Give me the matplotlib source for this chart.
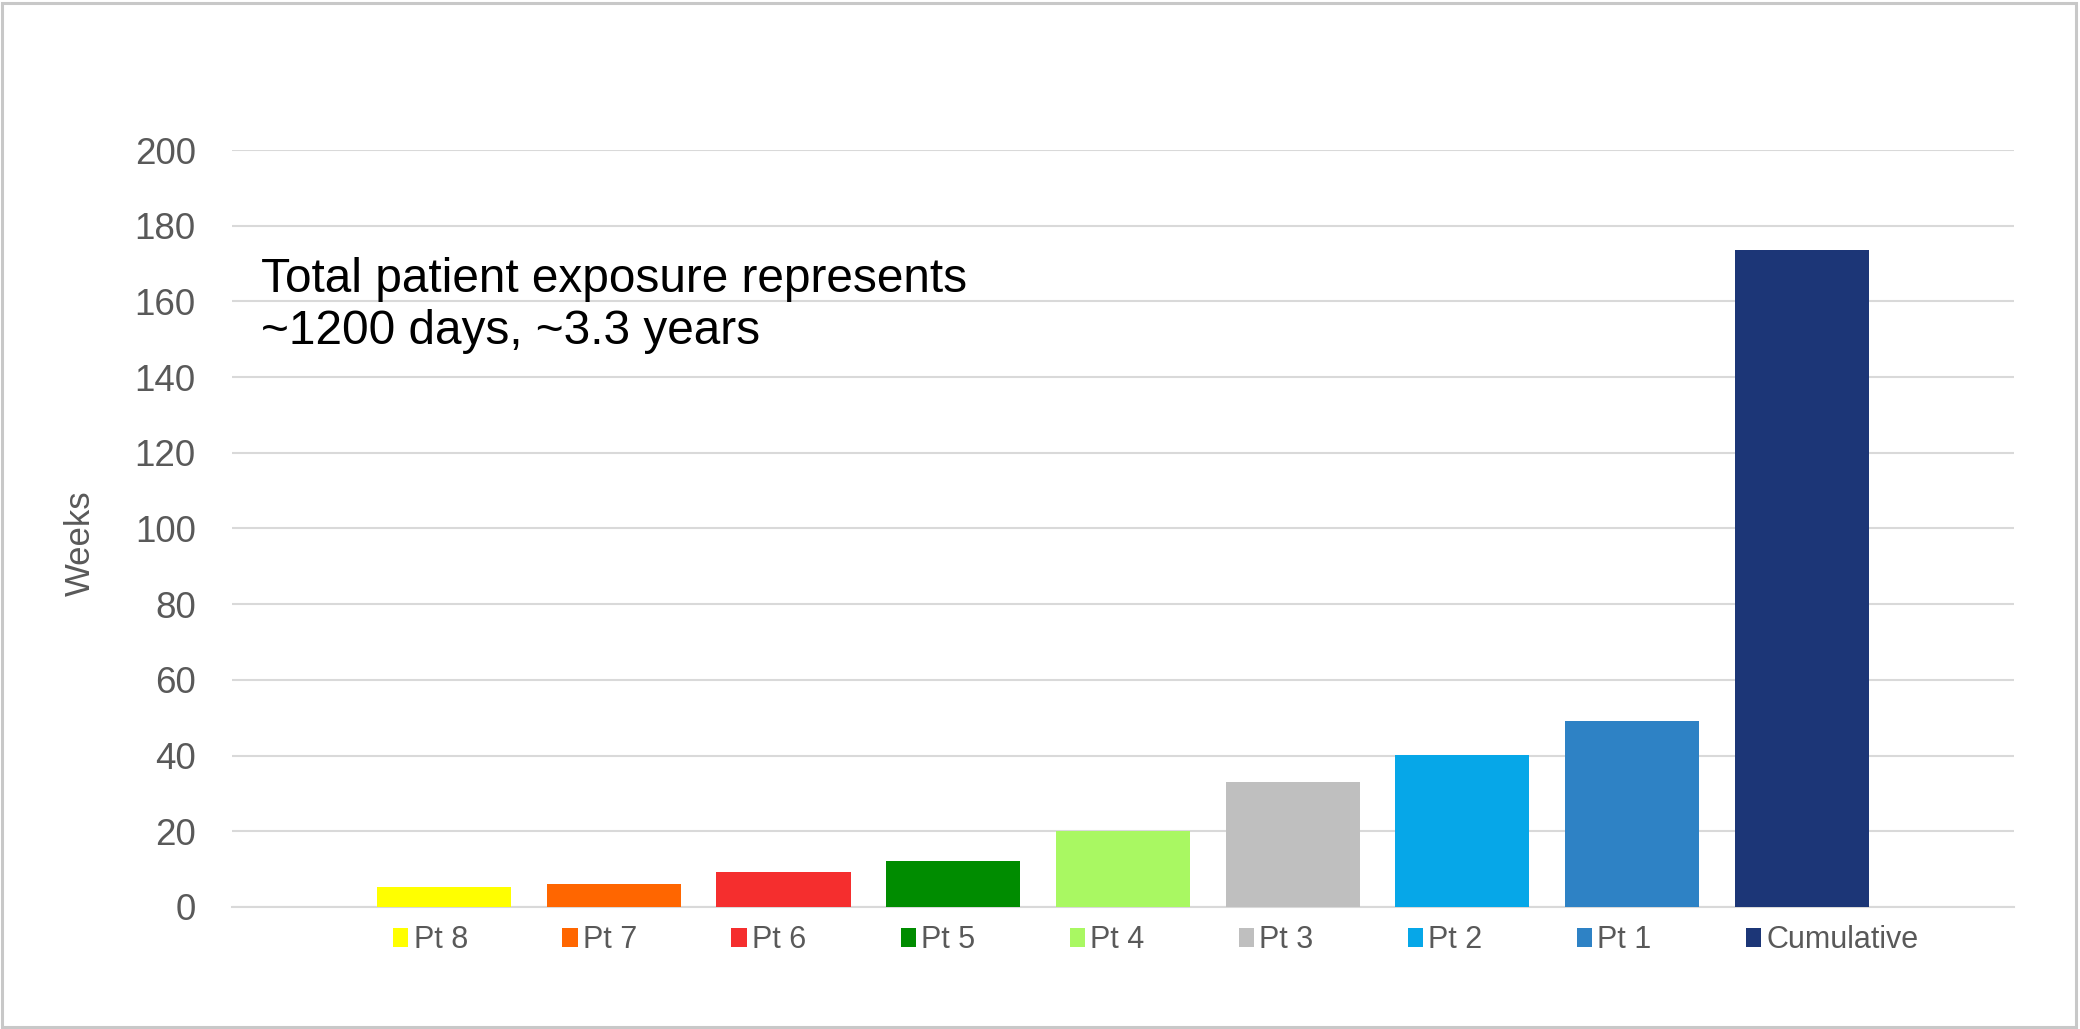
import matplotlib.pyplot as plt
from matplotlib.patches import Patch, Rectangle

plt.rcParams['font.family'] = ['Liberation Sans', 'DejaVu Sans']

# weeks on treatment per patient, plus the running total
patients = ['Pt 8', 'Pt 7', 'Pt 6', 'Pt 5', 'Pt 4', 'Pt 3', 'Pt 2', 'Pt 1', 'Cumulative']
weeks = [5.2, 6.0, 9.2, 12.1, 20.0, 33.0, 40.1, 49.1, 173.6]
colors = ['#FFFF00', '#FF6600', '#F52E2E', '#008C00', '#A9F862',
          '#BFBFBF', '#06A7E8', '#2E82C5', '#1C3677']
yticks = [0, 20, 40, 60, 80, 100, 120, 140, 160, 180, 200]

grey = '#595959'
grid = '#D9D9D9'

fig = plt.figure(figsize=(20.8, 10.29), dpi=100)
ax = fig.add_axes([0.1115, 0.1186, 0.8567, 0.7356])

x = list(range(len(patients)))
bars = ax.bar(x, weeks, width=0.79, color=colors, zorder=3)

ax.set_xlim(-1.25, len(patients) - 1 + 1.25)
ax.set_ylim(0, 200)
ax.set_yticks(yticks)
ax.set_xticks([])
ax.tick_params(axis='y', length=0, pad=26, labelsize=26.5, labelcolor=grey)
ax.yaxis.grid(True, color=grid, linewidth=1.5, zorder=0)
for side in ['top', 'right', 'left']:
    ax.spines[side].set_visible(False)
ax.spines['bottom'].set_color(grid)
ax.spines['bottom'].set_linewidth(1.5)
ax.spines['bottom'].set_zorder(1)

ax.set_ylabel('Weeks', fontsize=25, color=grey)
ax.yaxis.set_label_coords(-0.0853, 0.48)
ax.yaxis.label.set_va('center')

ax.text(0.0163, 0.859, 'Total patient exposure represents\n~1200 days, ~3.3 years',
        transform=ax.transAxes, fontsize=34.4, color='black', va='top', ha='left',
        linespacing=1.2)

handles = [Patch(facecolor=c) for c in colors]
leg = ax.legend(handles, patients, ncol=len(patients), loc='center',
                bbox_to_anchor=(0.5185, -0.044), frameon=False, fontsize=22,
                handlelength=0.5, handleheight=0.55, handletextpad=0.17,
                columnspacing=3.09, borderaxespad=0)
for t in leg.get_texts():
    t.set_color(grey)

# thin frame round the whole chart
fig.patches.append(Rectangle((0.0008, 0.002), 0.9975, 0.9955, transform=fig.transFigure,
                             fill=False, edgecolor='#C8C8C8', linewidth=2.2))

fig.savefig('out.png', dpi=100, facecolor='white')
